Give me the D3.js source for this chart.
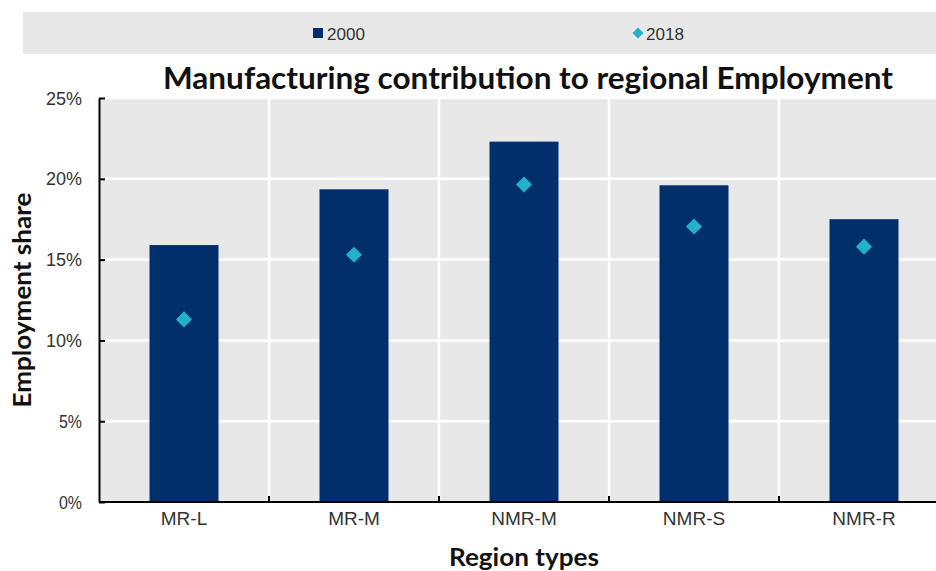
<!DOCTYPE html>
<html><head><meta charset="utf-8">
<script src="https://cdn.jsdelivr.net/npm/d3@7"></script>
<style>
html,body{margin:0;padding:0;background:#fff;}
svg{display:block;}
</style></head>
<body>
<svg id="chart" width="936" height="571"></svg>
<script>
const categories = ["MR-L", "MR-M", "NMR-M", "NMR-S", "NMR-R"];
const values2000 = [15.9, 19.35, 22.3, 19.6, 17.5];
const values2018 = [11.3, 15.3, 19.65, 17.05, 15.8];
const yTicks = [0, 5, 10, 15, 20, 25];
const seriesNames = ["2000", "2018"];

const W = 936, H = 571;
const svg = d3.select("#chart");
const sans = "'Liberation Sans', Arial, sans-serif";
const bold = "Lato, 'Open Sans', sans-serif";
const barColor = "#002f6c";
const dotColor = "#22b1c9";
const bg = "#e8e8e8";

const m = {left: 99, top: 98, bottom: 502};
const plotRight = 949;

// legend band
svg.append("rect").attr("x", 23).attr("y", 12).attr("width", W - 23).attr("height", 42).attr("fill", bg);
const leg = svg.append("g");
leg.append("rect").attr("x", 313).attr("y", 28).attr("width", 10).attr("height", 10).attr("fill", barColor);
leg.append("text").attr("x", 327).attr("y", 40).text(seriesNames[0])
  .attr("font-family", sans).attr("font-size", 17).attr("fill", "#333")
  .attr("textLength", 38).attr("lengthAdjust", "spacingAndGlyphs");
leg.append("path").attr("d", d3.symbol(d3.symbolSquare, 60)()).attr("transform", "translate(638,33) rotate(45)").attr("fill", dotColor);
leg.append("text").attr("x", 646).attr("y", 40).text(seriesNames[1])
  .attr("font-family", sans).attr("font-size", 17).attr("fill", "#333")
  .attr("textLength", 38).attr("lengthAdjust", "spacingAndGlyphs");

// title
svg.append("text").attr("x", 528).attr("y", 89).attr("text-anchor", "middle")
  .attr("font-family", bold).attr("font-weight", "bold").attr("font-size", 30)
  .attr("fill", "#111").attr("textLength", 730).attr("lengthAdjust", "spacingAndGlyphs")
  .text("Manufacturing contribution to regional Employment");

const x = d3.scaleBand().domain(categories).range([m.left, plotRight]).paddingInner(0).paddingOuter(0);
const y = d3.scaleLinear().domain([0, 25]).range([m.bottom, m.top]);

// plot background
svg.append("rect").attr("x", m.left).attr("y", m.top).attr("width", plotRight - m.left).attr("height", m.bottom - m.top).attr("fill", bg);

// gridlines
svg.append("g").selectAll("line").data(yTicks.filter(d => d > 0)).join("line")
  .attr("x1", m.left).attr("x2", plotRight).attr("y1", d => y(d)).attr("y2", d => y(d))
  .attr("stroke", "#fff").attr("stroke-width", 2.5);
svg.append("g").selectAll("line").data(categories.slice(1)).join("line")
  .attr("x1", d => x(d)).attr("x2", d => x(d)).attr("y1", m.top).attr("y2", m.bottom)
  .attr("stroke", "#fff").attr("stroke-width", 2.5);

// bars
const bw = 69;
svg.append("g").selectAll("rect").data(categories).join("rect")
  .attr("x", d => x(d) + x.bandwidth() / 2 - bw / 2)
  .attr("width", bw)
  .attr("y", (d, i) => y(values2000[i]))
  .attr("height", (d, i) => y(0) - y(values2000[i]))
  .attr("fill", barColor);

// diamonds
svg.append("g").selectAll("path").data(categories).join("path")
  .attr("d", d3.symbol(d3.symbolSquare, 130)())
  .attr("transform", (d, i) => `translate(${x(d) + x.bandwidth() / 2},${y(values2018[i])}) rotate(45)`)
  .attr("fill", dotColor);

// y axis
const yAxis = d3.axisLeft(y).tickValues(yTicks).tickFormat(d => d + "%").tickSizeInner(-6).tickSizeOuter(0).tickPadding(17);
const gy = svg.append("g").attr("transform", `translate(${m.left},0)`).call(yAxis);
gy.select(".domain").attr("stroke", "#000").attr("stroke-width", 2);
gy.selectAll(".tick line").attr("stroke", "#000").attr("stroke-width", 2);
gy.selectAll(".tick text").attr("font-family", sans).attr("font-size", 19).attr("fill", "#333")
  .attr("textLength", 36).attr("lengthAdjust", "spacingAndGlyphs")
  .filter(d => d < 10).attr("textLength", 23);

// x axis
const gx = svg.append("g").attr("transform", `translate(0,${m.bottom})`)
  .call(d3.axisBottom(x).tickSize(0).tickPadding(10));
gx.select(".domain").remove();
gx.append("line").attr("x1", m.left).attr("x2", W).attr("y1", 0).attr("y2", 0).attr("stroke", "#000").attr("stroke-width", 2);
gx.selectAll(".tick text").attr("font-family", sans).attr("font-size", 19).attr("fill", "#333");
gx.append("g").selectAll("line").data(categories.slice(1)).join("line")
  .attr("x1", d => x(d)).attr("x2", d => x(d)).attr("y1", 0).attr("y2", -6)
  .attr("stroke", "#000").attr("stroke-width", 2);

// axis titles
svg.append("text").attr("transform", "translate(31,300) rotate(-90)").attr("text-anchor", "middle")
  .attr("font-family", bold).attr("font-weight", "bold").attr("font-size", 25)
  .attr("fill", "#111").attr("textLength", 215).attr("lengthAdjust", "spacingAndGlyphs")
  .text("Employment share");
svg.append("text").attr("x", 524).attr("y", 566).attr("text-anchor", "middle")
  .attr("font-family", bold).attr("font-weight", "bold").attr("font-size", 25)
  .attr("fill", "#111").attr("textLength", 150).attr("lengthAdjust", "spacingAndGlyphs")
  .text("Region types");
</script>
</body></html>
